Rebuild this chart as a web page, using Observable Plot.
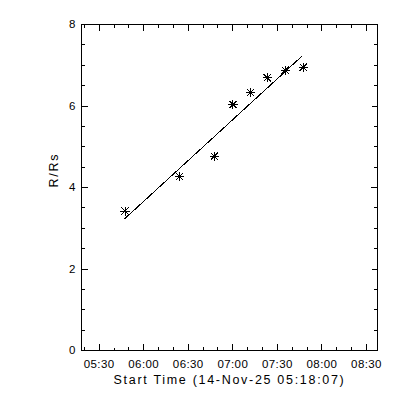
<!DOCTYPE html>
<html>
<head>
<meta charset="utf-8">
<script src="https://cdn.jsdelivr.net/npm/d3@7"></script>
<script src="https://cdn.jsdelivr.net/npm/@observablehq/plot@0.6"></script>
<style>
  html, body { margin: 0; padding: 0; background: white; }
  #chart { width: 400px; height: 400px; }
  #chart svg path, #chart svg rect, #chart svg line { shape-rendering: crispEdges; }
</style>
</head>
<body>
<div id="chart"></div>
<script>
// ---- data ----
const day = "2025-11-14";
const startTime = "05:18:07";
const endTime = "08:37:25";
const obsTimes = ["05:47:25", "06:24:00", "06:47:35", "07:00:05", "07:11:55", "07:23:10", "07:35:20", "07:47:20"];
const obsRs = [3.42, 4.27, 4.77, 6.04, 6.33, 6.69, 6.88, 6.95];
const fitTimes = ["05:47:25", "07:46:10"];
const fitRs = [3.24, 7.21];
const xTickLabels = ["05:30", "06:00", "06:30", "07:00", "07:30", "08:00", "08:30"];
const yTickValues = [0, 2, 4, 6, 8];
const yLabel = "R/Rs";
const xLabel = "Start Time (14-Nov-25 05:18:07)";

// ---- helpers ----
const t = s => new Date(`${day}T${s}Z`);
const obs = obsTimes.map((s, i) => ({time: t(s), r: obsRs[i]}));
const fit = fitTimes.map((s, i) => ({time: t(s), r: fitRs[i]}));
const xMajor = xTickLabels.map(t);
const xMinor = d3.utcMinute.every(10).range(t(startTime), t(endTime));
const yMinor = d3.range(0, 8.001, 0.5);

const tickShape = {draw(context, l) { context.moveTo(0, 0); context.lineTo(0, -l); }};
const asterisk = {
  draw(context, size) {
    const r = Math.sqrt(size / Math.PI);
    const d = r * 0.78;
    context.moveTo(-r, 0); context.lineTo(r, 0);
    context.moveTo(0, -r); context.lineTo(0, r);
    context.moveTo(-d, -d); context.lineTo(d, d);
    context.moveTo(-d, d); context.lineTo(d, -d);
  }
};

const ticks = (data, chan, anchor, rotate, length) =>
  Plot.vector(data, {[chan]: d => d, frameAnchor: anchor, rotate, length, anchor: "start",
    shape: tickShape, stroke: "black", strokeWidth: 1});

const chart = Plot.plot({
  width: 400,
  height: 400,
  marginLeft: 81,
  marginRight: 23,
  marginTop: 24,
  marginBottom: 50,
  style: {fontFamily: "'Liberation Sans', Arial, sans-serif", fontSize: "11.5px", background: "white", color: "black"},
  x: {type: "utc", domain: [t(startTime), t(endTime)], axis: null},
  y: {domain: [0, 8], axis: null},
  marks: [
    Plot.frame({stroke: "black", strokeWidth: 1}),
    // x ticks (bottom & top, inward)
    ticks(xMinor, "x", "bottom", 0, 3),
    ticks(xMajor, "x", "bottom", 0, 6),
    ticks(xMinor, "x", "top", 180, 3),
    ticks(xMajor, "x", "top", 180, 6),
    // y ticks (left & right, inward)
    ticks(yMinor, "y", "left", 90, 3),
    ticks(yTickValues, "y", "left", 90, 6),
    ticks(yMinor, "y", "right", -90, 3),
    ticks(yTickValues, "y", "right", -90, 6),
    // tick labels
    Plot.text(xMajor, {x: d => d, frameAnchor: "bottom", dy: 14, text: (d, i) => xTickLabels[i], lineAnchor: "middle", fill: "black"}),
    Plot.text(yTickValues, {y: d => d, frameAnchor: "left", dx: -6, textAnchor: "end", text: d => String(d), lineAnchor: "middle", fill: "black"}),
    // axis titles
    Plot.text([xLabel], {frameAnchor: "bottom", dy: 29, text: d => d, lineAnchor: "middle", fill: "black", fontSize: 12.5}),
    Plot.text([yLabel], {frameAnchor: "left", dx: -28, rotate: -90, text: d => d, lineAnchor: "middle", fill: "black", fontSize: 12.5}),
    // fit line and observations
    Plot.line(fit, {x: "time", y: "r", stroke: "black", strokeWidth: 1}),
    Plot.dot(obs, {x: "time", y: "r", symbol: asterisk, r: 4.6, stroke: "black", fill: "none", strokeWidth: 1})
  ]
});
// widen the axis titles' letter spacing like the reference's vector font
d3.select(chart).selectAll("text")
  .filter(function() { return this.textContent === xLabel || this.textContent === yLabel; })
  .attr("letter-spacing", "1.7px");
d3.select(chart).selectAll("text")
  .filter(function() { return xTickLabels.includes(this.textContent); })
  .attr("letter-spacing", "0.4px");
document.getElementById("chart").append(chart);
</script>
</body>
</html>
